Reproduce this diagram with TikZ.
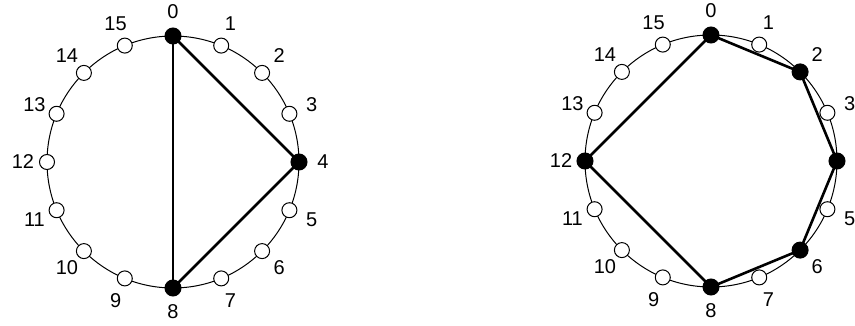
\documentclass[tikz,border=0pt]{standalone}
\usepackage{fontspec}
\setmainfont{Liberation Sans}
\begin{document}
\begin{tikzpicture}[x=1pt,y=-1pt,
  ring/.style={line width=1pt},
  open/.style={circle, draw, fill=white, line width=1pt, minimum size=15pt, inner sep=0pt},
  full/.style={circle, draw, fill=black, line width=1pt, minimum size=16pt, inner sep=0pt},
  chord/.style={line width=2.6pt},
  lbl/.style={font=\fontsize{20}{20}\selectfont, inner sep=0pt}]
\useasboundingbox (0,0) rectangle (855,326);

% left ring: 16 positions, triangle 0-4-8
\coordinate (Lc) at (173,162);
\draw[ring] (Lc) circle [radius=126pt];
\foreach \k/\s in {0/full,1/open,2/open,3/open,4/full,5/open,6/open,7/open,
                   8/full,9/open,10/open,11/open,12/open,13/open,14/open,15/open} {
  \pgfmathsetmacro\a{90-22.5*\k}
  \coordinate (Lp\k) at ({173+126*cos(\a)},{162-126*sin(\a)});
  \node[lbl] (Lt\k) at ({173+150*cos(\a)},{162-150*sin(\a)}) {\k};
}
\draw[chord] (Lp0) -- (Lp4);
\draw[chord] (Lp4) -- (Lp8);
\draw[chord] (Lp8) -- (Lp0);
\foreach \k/\s in {0/full,1/open,2/open,3/open,4/full,5/open,6/open,7/open,
                   8/full,9/open,10/open,11/open,12/open,13/open,14/open,15/open} {
  \node[\s] (L\k) at (Lp\k) {};
}

% right ring: 16 positions, hexagon 0-2-4-6-8-12
\coordinate (Rc) at (711,161);
\draw[ring] (Rc) circle [radius=126pt];
\foreach \k/\s in {0/full,1/open,2/full,3/open,4/full,5/open,6/full,7/open,
                   8/full,9/open,10/open,11/open,12/full,13/open,14/open,15/open} {
  \pgfmathsetmacro\a{90-22.5*\k}
  \coordinate (Rp\k) at ({711+126*cos(\a)},{161-126*sin(\a)});
  \node[lbl] (Rt\k) at ({711+150*cos(\a)},{161-150*sin(\a)}) {\k};
}
\draw[chord] (Rp0) -- (Rp2);
\draw[chord] (Rp2) -- (Rp4);
\draw[chord] (Rp4) -- (Rp6);
\draw[chord] (Rp6) -- (Rp8);
\draw[chord] (Rp8) -- (Rp12);
\draw[chord] (Rp12) -- (Rp0);
\foreach \k/\s in {0/full,1/open,2/full,3/open,4/full,5/open,6/full,7/open,
                   8/full,9/open,10/open,11/open,12/full,13/open,14/open,15/open} {
  \node[\s] (R\k) at (Rp\k) {};
}
\end{tikzpicture}
\end{document}
